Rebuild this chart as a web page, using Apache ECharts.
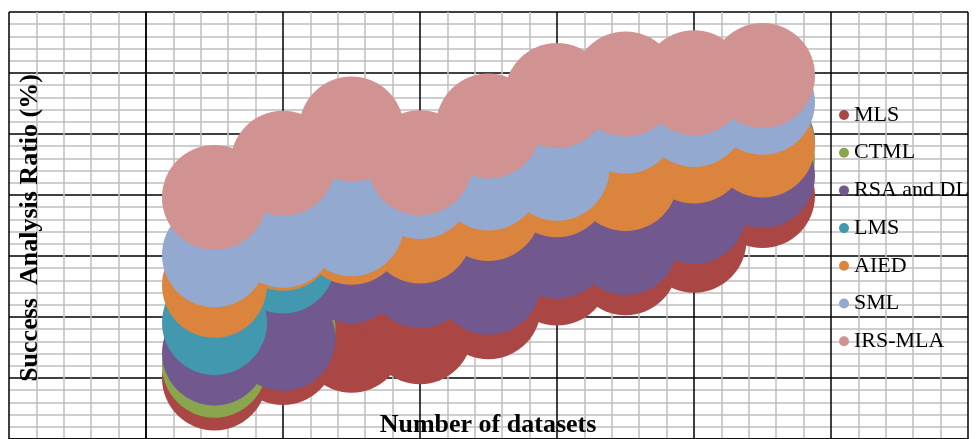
<!DOCTYPE html>
<html>
<head>
<meta charset="utf-8">
<script src="https://cdn.jsdelivr.net/npm/echarts@6/dist/echarts.min.js"></script>
<style>
  html, body { margin: 0; padding: 0; background: #fff; }
  #chart { width: 979px; height: 439px; }
</style>
</head>
<body>
<div id="chart"></div>
<script>
// ---- data ----
const datasets = [1, 2, 3, 4, 5, 6, 7, 8, 9];
const seriesNames = ['MLS', 'CTML', 'RSA and DL', 'LMS', 'AIED', 'SML', 'IRS-MLA'];
const MLS     = [40.0, 44.2, 46.2, 47.6, 51.7, 57.2, 58.9, 62.6, 69.9];
const CTML    = [42.1, 48.0, 59.0, 58.2, 57.5, 63.0, 64.0, 69.0, 75.9];
const RSA_DL  = [44.1, 46.5, 57.6, 56.8, 55.7, 61.6, 62.2, 67.3, 73.2];
const LMS     = [49.1, 59.2, 64.4, 64.6, 68.3, 72.2, 73.2, 77.7, 78.7];
const AIED    = [55.2, 62.9, 63.9, 64.1, 67.8, 71.7, 72.7, 77.2, 78.2];
const SML     = [60.2, 63.4, 65.3, 71.4, 72.8, 74.4, 82.1, 83.2, 85.2];
const IRS_MLA = [69.6, 75.2, 80.8, 75.3, 81.3, 86.3, 88.2, 88.4, 89.6];

const seriesValues = [MLS, CTML, RSA_DL, LMS, AIED, SML, IRS_MLA];
const colors = ['#AA4643', '#89A54E', '#71588F', '#4198AF', '#DB843D', '#93A9CF', '#D19292'];

const chart = echarts.init(document.getElementById('chart'), null, { renderer: 'canvas' });

const serif = '"Liberation Serif", "Times New Roman", serif';

const option = {
  backgroundColor: '#ffffff',
  animation: false,
  color: colors,
  grid: { left: 9, top: 12, width: 959, height: 430, containLabel: false },
  xAxis: {
    type: 'value', min: -2, max: 12, interval: 2,
    axisLabel: { show: false }, axisTick: { show: false },
    axisLine: { show: true, lineStyle: { color: '#000', width: 1.5 } },
    splitLine: { show: true, lineStyle: { color: '#000', width: 1.5 } },
    minorTick: { show: false, splitNumber: 5 },
    minorSplitLine: { show: true, lineStyle: { color: '#BFBFBF', width: 1.5 } }
  },
  yAxis: {
    type: 'value', min: 30, max: 100, interval: 10,
    axisLabel: { show: false }, axisTick: { show: false },
    axisLine: { show: true, lineStyle: { color: '#000', width: 1.5 } },
    splitLine: { show: true, lineStyle: { color: '#000', width: 1.5 } },
    minorTick: { show: false, splitNumber: 5 },
    minorSplitLine: { show: true, lineStyle: { color: '#BFBFBF', width: 1.5 } }
  },
  legend: {
    orient: 'vertical', left: 839, top: 104, padding: 0,
    itemWidth: 10, itemHeight: 10, itemGap: 15.7, icon: 'circle',
    textStyle: { fontFamily: serif, fontSize: 22, color: '#000', lineHeight: 22 },
    data: seriesNames
  },
  graphic: [
    {
      type: 'text', x: 30, y: 228, rotation: Math.PI / 2, silent: true, z: 100,
      style: {
        text: 'Success  Analysis Ratio (%)',
        fontFamily: serif, fontSize: 26, fontWeight: 'bold',
        fill: '#000', stroke: null, lineWidth: 0,
        align: 'center', verticalAlign: 'middle'
      }
    },
    {
      type: 'text', x: 488, y: 425, silent: true, z: 100,
      style: {
        text: 'Number of datasets',
        fontFamily: serif, fontSize: 26, fontWeight: 'bold',
        fill: '#000', stroke: null, lineWidth: 0,
        align: 'center', verticalAlign: 'middle'
      }
    }
  ],
  series: seriesNames.map(function (name, i) {
    return {
      name: name,
      type: 'scatter',
      symbol: 'circle',
      symbolSize: 105,
      silent: true,
      itemStyle: { color: colors[i], opacity: 1 },
      emphasis: { disabled: true },
      data: datasets.map(function (d, j) { return [d, seriesValues[i][j]]; })
    };
  })
};

chart.setOption(option);
</script>
</body>
</html>
